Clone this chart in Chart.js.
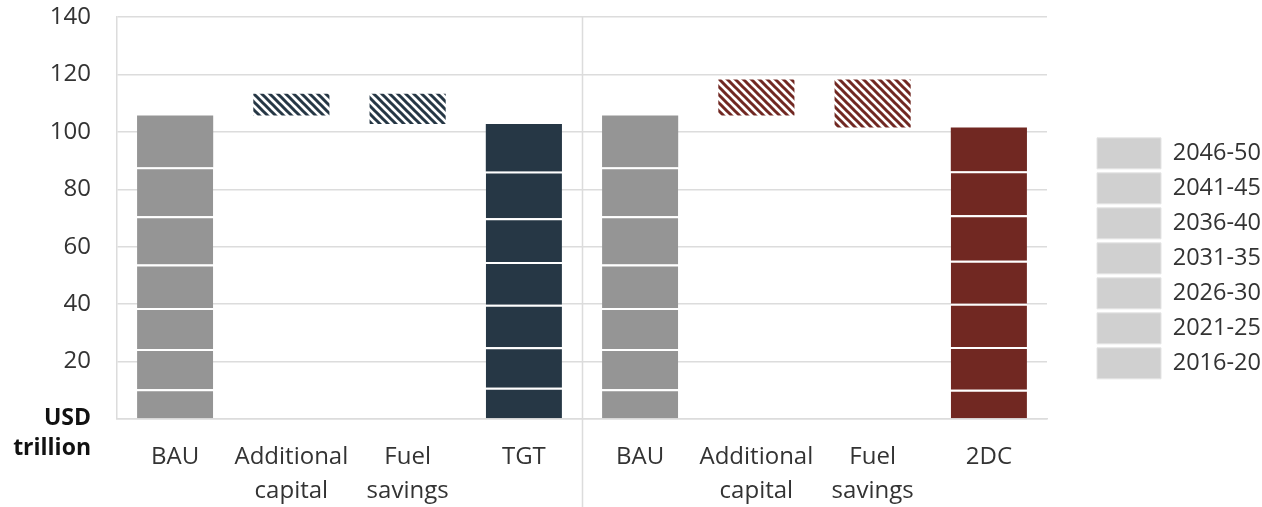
<!DOCTYPE html>
<html>
<head>
<meta charset="utf-8">
<script src="https://cdn.jsdelivr.net/npm/chart.js@4/dist/chart.umd.min.js"></script>
<style>
  html, body { margin: 0; padding: 0; background: #ffffff; }
  #wrap { width: 1262px; height: 507px; position: relative; }
</style>
</head>
<body>
<div id="wrap"><canvas id="chart"></canvas></div>
<script>
// Investment categories along the x axis (multi-line labels)
const categories = [
  ['BAU'], ['Additional', 'capital'], ['Fuel', 'savings'], ['TGT'],
  ['BAU'], ['Additional', 'capital'], ['Fuel', 'savings'], ['2DC']
];

// Five-year periods, bottom of the stack first
const periods = ['2016-20', '2021-25', '2026-30', '2031-35', '2036-40', '2041-45', '2046-50'];

// Cumulative spend per period, USD trillion (null where a category has no stacked bar)
const p2016_20 = [10.4, null, null, 10.9, 10.4, null, null, 10.2];
const p2021_25 = [14.0, null, null, 14.1, 14.0, null, null, 14.9];
const p2026_30 = [14.3, null, null, 14.8, 14.3, null, null, 15.0];
const p2031_35 = [15.1, null, null, 14.9, 15.1, null, null, 15.0];
const p2036_40 = [16.8, null, null, 15.2, 16.8, null, null, 15.9];
const p2041_45 = [17.1, null, null, 16.3, 17.1, null, null, 15.3];
const p2046_50 = [18.0, null, null, 16.5, 18.0, null, null, 15.2];
const periodValues = [p2016_20, p2021_25, p2026_30, p2031_35, p2036_40, p2041_45, p2046_50];

// Floating "bridge" bars: lower and upper bound, USD trillion
const bridgeLow  = [null, 105.7, 102.7, null, null, 105.7, 101.5, null];
const bridgeHigh = [null, 113.3, 113.3, null, null, 118.2, 118.2, null];

// Y axis ticks
const yTicks = [0, 20, 40, 60, 80, 100, 120, 140];

const GREY = '#959595';
const NAVY = '#263745';
const MAROON = '#712822';
const TEXT = '#333333';
const GRID = '#dcdcdc';
const FONT = "'Open Sans', 'Noto Sans', sans-serif";
const FONT_SIZE = 24;

// Solid colour for each stacked column
const columnColors = [GREY, null, null, NAVY, GREY, null, null, MAROON];

function stripePattern(color) {
  const s = 8;
  const c = document.createElement('canvas');
  c.width = s; c.height = s;
  const g = c.getContext('2d');
  g.fillStyle = '#ffffff';
  g.fillRect(0, 0, s, s);
  g.strokeStyle = color;
  g.lineWidth = 3;
  g.lineCap = 'square';
  g.beginPath();
  g.moveTo(-2, -2); g.lineTo(s + 2, s + 2);
  g.moveTo(-2, s - 2); g.lineTo(2, s + 2);
  g.moveTo(s - 2, -2); g.lineTo(s + 2, 2);
  g.stroke();
  return g.createPattern(c, 'repeat');
}
const navyStripes = stripePattern(NAVY);
const maroonStripes = stripePattern(MAROON);
const bridgeColors = [null, navyStripes, navyStripes, null, null, maroonStripes, maroonStripes, null];

// White separators between stacked periods; the top period keeps its full height
const datasets = periods.map((label, i) => ({
  label: label,
  data: periodValues[i],
  backgroundColor: columnColors,
  borderColor: 'rgba(255,255,255,0.85)',
  borderWidth: i === periods.length - 1 ? 0 : { top: 2, left: 0, right: 0, bottom: 0 },
  borderSkipped: 'start',
  yAxisID: 'y'
}));

datasets.push({
  label: 'bridge',
  data: bridgeLow.map((lo, i) => lo === null ? null : [lo, bridgeHigh[i]]),
  backgroundColor: bridgeColors,
  borderWidth: 0,
  yAxisID: 'y'
});

// Separator between the two scenario groups, plus the y axis unit
const decorations = {
  id: 'decorations',
  afterDraw(chart) {
    const { ctx, chartArea, scales } = chart;
    const xs = scales.x;
    const sepX = Math.round((xs.getPixelForTick(3) + xs.getPixelForTick(4)) / 2) + 0.5;
    ctx.save();
    ctx.strokeStyle = GRID;
    ctx.lineWidth = 1.5;
    ctx.beginPath();
    ctx.moveTo(sepX, chartArea.top);
    ctx.lineTo(sepX, chart.height);
    ctx.stroke();

    const ys = scales.y;
    const zero = ys.getPixelForValue(0);
    ctx.fillStyle = '#111111';
    ctx.font = "bold 23px " + FONT;
    ctx.textAlign = 'right';
    ctx.textBaseline = 'middle';
    ctx.fillText('USD', 91, zero - 1);
    ctx.fillText('trillion', 91, zero + 29);
    ctx.restore();
  }
};

new Chart(document.getElementById('chart'), {
  type: 'bar',
  data: { labels: categories, datasets: datasets },
  plugins: [decorations],
  options: {
    responsive: true,
    maintainAspectRatio: false,
    animation: false,
    layout: { padding: { top: 17, left: 0, right: 0, bottom: 0 } },
    datasets: { bar: { categoryPercentage: 1, barPercentage: 0.655 } },
    plugins: {
      tooltip: { enabled: false },
      legend: {
        position: 'right',
        reverse: true,
        maxWidth: 169,
        title: { display: true, text: ' ', font: { size: 1 }, padding: { top: 0, bottom: -8.5 } },
        labels: {
          boxWidth: 64,
          boxHeight: 31,
          padding: 4,
          color: TEXT,
          font: { family: FONT, size: 23.5 },
          filter: (item) => item.text !== 'bridge',
          generateLabels(chart) {
            return chart.data.datasets.map((ds, i) => ({
              text: ds.label,
              fillStyle: '#d0d0d0',
              strokeStyle: '#e4e4e4',
              fontColor: TEXT,
              lineWidth: 1,
              hidden: false,
              datasetIndex: i
            }));
          }
        }
      }
    },
    scales: {
      x: {
        stacked: true,
        grid: { display: false, drawTicks: false },
        border: { display: true, color: GRID, width: 1.5 },
        ticks: {
          color: TEXT,
          padding: 21,
          font: { family: FONT, size: FONT_SIZE, lineHeight: 1.42 },
          maxRotation: 0,
          autoSkip: false
        },
        afterFit(scale) { scale.height = 88; }
      },
      y: {
        stacked: true,
        min: 0,
        max: 140,
        position: 'left',
        afterBuildTicks(scale) { scale.ticks = yTicks.map(v => ({ value: v })); },
        grid: { color: GRID, lineWidth: 1.5, drawTicks: false },
        border: { display: true, color: GRID, width: 1.5 },
        ticks: {
          color: TEXT,
          padding: 26,
          font: { family: FONT, size: FONT_SIZE },
          callback: (v) => v === 0 ? '' : String(v)
        },
        afterFit(scale) {
          scale.width = 117;
          scale.paddingTop = 0;
          scale.paddingBottom = 0;
        }
      },
      gap: {
        type: 'linear',
        position: 'right',
        display: true,
        grid: { display: false, drawTicks: false },
        border: { display: false },
        ticks: { display: false },
        afterFit(scale) { scale.width = 46; }
      }
    }
  }
});
</script>
</body>
</html>
